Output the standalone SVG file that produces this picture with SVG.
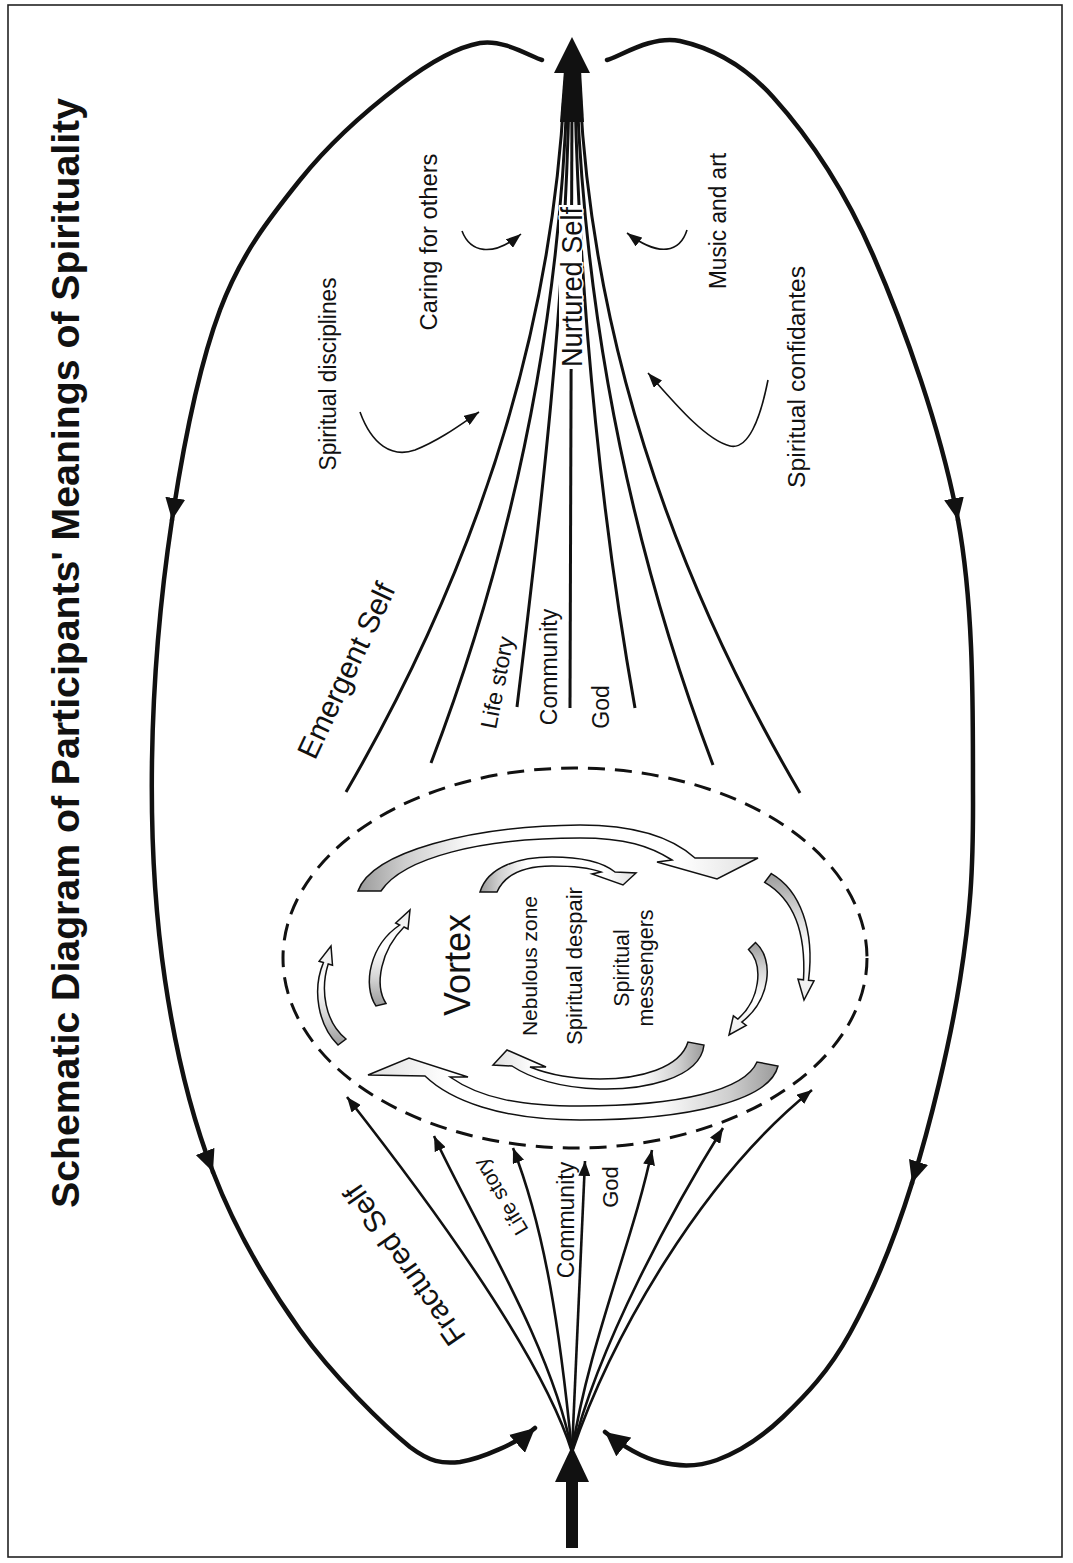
<svg xmlns="http://www.w3.org/2000/svg" width="1073" height="1563" viewBox="0 0 1073 1563">
<style>
.lbl{font-family:"Liberation Sans",Arial,Helvetica,sans-serif;fill:#111}
.title{font-family:"Liberation Sans",Arial,Helvetica,sans-serif;font-weight:bold;fill:#111}
.loop{fill:none;stroke:#111;stroke-width:4.5;stroke-linecap:round}
.fan{fill:none;stroke:#111;stroke-width:2.6}
.up{fill:none;stroke:#111;stroke-width:3}
.thin{fill:none;stroke:#111;stroke-width:1.6}
.blk{stroke:#111;stroke-width:1.5;stroke-linejoin:miter}
.halo{stroke:#fff;stroke-width:3;paint-order:stroke;stroke-linejoin:round}
</style>
<defs>
<marker id="ah" viewBox="0 0 15 12" refX="15" refY="6" markerWidth="15" markerHeight="12" markerUnits="userSpaceOnUse" orient="auto"><path d="M0,0 L15,6 L0,12 Z" fill="#111"/></marker>
<marker id="ahs" viewBox="0 0 15 11" refX="15" refY="5.5" markerWidth="15" markerHeight="11" markerUnits="userSpaceOnUse" orient="auto"><path d="M0,0 L15,5.5 L0,11 Z" fill="#111"/></marker>
<marker id="ahL" viewBox="0 0 22 20" refX="22" refY="10" markerWidth="22" markerHeight="20" markerUnits="userSpaceOnUse" orient="auto"><path d="M0,0 L22,10 L0,20 Z" fill="#111"/></marker>
<marker id="ahB" viewBox="0 0 24 24" refX="24" refY="12" markerWidth="24" markerHeight="24" markerUnits="userSpaceOnUse" orient="auto"><path d="M0,0 L24,12 L0,24 Z" fill="#111"/></marker>
<linearGradient id="gL" x1="0" y1="0" x2="1" y2="0"><stop offset="0" stop-color="#9a9a9a"/><stop offset="0.12" stop-color="#cfcfcf"/><stop offset="0.3" stop-color="#fff"/><stop offset="0.8" stop-color="#fff"/><stop offset="1" stop-color="#e0e0e0"/></linearGradient>
<linearGradient id="gR" x1="1" y1="0" x2="0" y2="0"><stop offset="0" stop-color="#9a9a9a"/><stop offset="0.12" stop-color="#cfcfcf"/><stop offset="0.3" stop-color="#fff"/><stop offset="0.8" stop-color="#fff"/><stop offset="1" stop-color="#e0e0e0"/></linearGradient>
<linearGradient id="gB" x1="0" y1="1" x2="0" y2="0"><stop offset="0" stop-color="#9a9a9a"/><stop offset="0.3" stop-color="#d6d6d6"/><stop offset="0.6" stop-color="#fff"/><stop offset="1" stop-color="#ececec"/></linearGradient>
<linearGradient id="gT" x1="0" y1="0" x2="0" y2="1"><stop offset="0" stop-color="#9a9a9a"/><stop offset="0.3" stop-color="#d6d6d6"/><stop offset="0.6" stop-color="#fff"/><stop offset="1" stop-color="#ececec"/></linearGradient>
</defs>
<rect x="0" y="0" width="1073" height="1563" fill="#fff"/>
<rect id="frame" x="8" y="5" width="1054" height="1552" fill="none" stroke="#222" stroke-width="1.6"/>

<g id="title">
<text class="title" font-size="39" textLength="1110" lengthAdjust="spacingAndGlyphs" transform="translate(79,1208) rotate(-90)">Schematic Diagram of Participants' Meanings of Spirituality</text>
</g>

<g id="connectors">
<!-- outer left loop -->
<path class="loop" marker-end="url(#ahL)" d="M542,60 C531.7,57.2 503.7,38.8 480,43 C456.3,47.2 430,62.2 400,85 C370,107.8 330,142.5 300,180 C270,217.5 241.3,253.3 220,310 C198.7,366.7 183.3,445 172,520"/>
<path class="loop" marker-end="url(#ahL)" d="M172,520 C160.7,595 153.2,683.3 152,760 C150.8,836.7 154.8,911.3 165,980 C175.2,1048.7 190.5,1113.7 213,1172"/>
<path class="loop" marker-end="url(#ahB)" d="M213,1172 C235.5,1230.3 267.2,1284.2 300,1330 C332.8,1375.8 383.3,1425.3 410,1447 C430,1462 442,1464 460,1462 C480.8,1458.8 518,1443 535,1428"/>
<!-- outer right loop -->
<path class="loop" marker-end="url(#ahL)" d="M607,60 C619.2,56.8 652.3,34.8 680,41 C707.7,47.2 740.8,61.3 773,97 C805.2,132.7 842.2,184.5 873,255 C903.8,325.5 941.3,429.8 958,520"/>
<path class="loop" marker-end="url(#ahL)" d="M958,520 C974.7,610.2 972.7,719.3 973,796 C973.3,872.7 970.2,915.5 960,980 C949.8,1044.5 930.3,1124.2 912,1183"/>
<path class="loop" marker-end="url(#ahB)" d="M912,1183 C893.7,1241.8 871.5,1294 850,1333 C828.5,1372 805.2,1395.8 783,1417 C760.8,1438.2 737.5,1452.5 717,1460 C696.5,1467.5 678.7,1466.7 660,1462 C641.3,1457.3 620,1444 605,1432"/>

<!-- bottom central arrow -->
<rect x="566" y="1478" width="12" height="70" fill="#111"/>
<path d="M572,1446 L589,1482 L555,1482 Z" fill="#111"/>

<!-- lower fan (Fractured Self) -->
<path class="fan" marker-end="url(#ah)" d="M572,1452 C540,1350 420,1190 347,1097"/>
<path class="fan" marker-end="url(#ah)" d="M572,1452 C552,1345 470,1215 434,1136"/>
<path class="fan" marker-end="url(#ah)" d="M572,1452 C560,1330 545,1230 513,1148"/>
<path class="fan" marker-end="url(#ah)" d="M572,1452 L585,1161"/>
<path class="fan" marker-end="url(#ah)" d="M572,1452 C588,1345 635,1235 652,1150"/>
<path class="fan" marker-end="url(#ah)" d="M572,1452 C598,1345 675,1205 723,1128"/>
<path class="fan" marker-end="url(#ah)" d="M572,1452 C610,1340 700,1180 812,1090"/>

<!-- upper fan (Emergent / Nurtured Self) -->
<path class="up" d="M346,792 C504,520 554,280 564,95"/>
<path class="up" d="M431,763 C524,520 560,290 567,95"/>
<path class="up" d="M517,707 C537,540 565,320 569,95"/>
<path class="up" d="M570,708 L572,95"/>
<path class="up" d="M635,708 C605,540 580,320 575,95"/>
<path class="up" d="M713,765 C620,520 585,290 577,95"/>
<path class="up" d="M800,793 C640,520 590,280 580,95"/>
<!-- top central arrow -->
<path d="M564,70 L581,70 L584,122 L560,122 Z" fill="#111"/>
<path d="M572,37 L590,73 L554,73 Z" fill="#111"/>

<!-- small influence arrows -->
<path class="thin" marker-end="url(#ahs)" d="M360,412 C372,445 392,458 415,450 C440,440 460,425 479,412"/>
<path class="thin" marker-end="url(#ahs)" d="M462,231 C470,252 492,258 521,234"/>
<path class="thin" marker-end="url(#ahs)" d="M687,230 C680,252 660,258 627,233"/>
<path class="thin" marker-end="url(#ahs)" d="M768,380 C760,420 748,450 730,446 C705,440 672,400 648,373"/>
</g>

<g id="vortex">
<ellipse cx="575" cy="958" rx="292" ry="190" fill="none" stroke="#111" stroke-width="3" stroke-dasharray="17 10"/>
<g id="vortex-arrows">
<path class="blk" fill="url(#gL)" d="M358,891 C372,852 470,826 580,825 C640,825 675,840 695,858 L758,858 L717,879 L657,862 L672,860 C650,846 625,838 580,838 C480,838 403,858 381,891 Z"/>
<path class="blk" fill="url(#gL)" d="M480,892 C488,866 520,857 552,857 C585,857 605,864 615,872 L636,873 L623,885 L592,874 L601,872 C590,868 572,866 552,866 C525,866 505,874 497,892 Z"/>
<path class="blk" fill="url(#gB)" d="M338,1045 C318,1025 312,990 323.4,962.6 L319.1,961.3 L331,946 L332.5,965.3 L328.2,964 C320,990 325,1022 346,1039 Z"/>
<path class="blk" fill="url(#gB)" d="M376,1006 C362,985 370,945 399.7,925 L395.7,923 L410,910 L408,929 L404,927 C381,950 374,985 386,1003.5 Z"/>
<path class="blk" fill="url(#gT)" d="M771.3,873.6 C800,890 815,930 808.5,980.3 L814,980.8 L804,1000 L798,979.2 L803.5,979.8 C806,935 795,900 764.7,882.4 Z"/>
<path class="blk" fill="url(#gT)" d="M755.5,942.5 C775,960 770,1000 741.8,1022.1 L746.2,1025.4 L729,1035 L733.4,1015.8 L737.8,1019.1 C760,1000 764,965 748.5,949.5 Z"/>
<path class="blk" fill="url(#gR)" d="M704,1045 C700,1080 640,1090 600,1089 C560,1088 530,1078 512,1066 L493,1065 L507,1050 L546,1067 L530,1067 C550,1075 575,1079 600,1079 C640,1079 680,1068 688,1042 Z"/>
<path class="blk" fill="url(#gR)" d="M778,1066 C770,1100 690,1120 580,1120 C500,1120 450,1100 425,1076 L368,1075 L409,1058 L468,1077 L450,1077 C480,1098 520,1106 580,1106 C680,1106 745,1090 757,1062 Z"/>
</g>
<text class="lbl" font-size="36" text-anchor="middle" transform="translate(470,965) rotate(-90)">Vortex</text>
<text class="lbl" font-size="21" text-anchor="middle" transform="translate(537,966) rotate(-90)">Nebulous zone</text>
<text class="lbl" font-size="22" text-anchor="middle" transform="translate(582,966) rotate(-90)">Spiritual despair</text>
<text class="lbl" font-size="21.5" text-anchor="middle" transform="translate(629,968) rotate(-90)">Spiritual</text>
<text class="lbl" font-size="21.5" text-anchor="middle" transform="translate(652.5,968) rotate(-90)">messengers</text>
</g>

<g id="fractured-self">
<text class="lbl" font-size="30" text-anchor="middle" transform="translate(413,1259) rotate(-124.7)">Fractured Self</text>
<text class="lbl" font-size="21" text-anchor="middle" transform="translate(507,1193) rotate(-121)">Life story</text>
<text class="lbl" font-size="23" text-anchor="middle" transform="translate(574,1220) rotate(-90)">Community</text>
<text class="lbl" font-size="22" text-anchor="middle" transform="translate(618,1187) rotate(-90)">God</text>
</g>

<g id="emergent-self">
<text class="lbl" font-size="30" text-anchor="middle" transform="translate(355.5,675) rotate(-64.7)">Emergent Self</text>
<text class="lbl" font-size="23" text-anchor="middle" transform="translate(505,684) rotate(-79)">Life story</text>
<text class="lbl" font-size="23" text-anchor="middle" transform="translate(557,667) rotate(-90)">Community</text>
<text class="lbl" font-size="23" text-anchor="middle" transform="translate(609,707) rotate(-90)">God</text>
</g>

<g id="nurtured-self">
<rect x="559" y="205" width="23" height="164" fill="#fff"/>
<text class="lbl halo" font-size="29" text-anchor="middle" textLength="160" lengthAdjust="spacingAndGlyphs" transform="translate(582,287) rotate(-90)">Nurtured Self</text>
</g>

<g id="influences">
<text class="lbl" font-size="23" text-anchor="middle" textLength="193" lengthAdjust="spacingAndGlyphs" transform="translate(336,374) rotate(-90)">Spiritual disciplines</text>
<text class="lbl" font-size="23.5" text-anchor="middle" textLength="177" lengthAdjust="spacingAndGlyphs" transform="translate(437,242) rotate(-90)">Caring for others</text>
<text class="lbl" font-size="23" text-anchor="middle" textLength="136" lengthAdjust="spacingAndGlyphs" transform="translate(726,221) rotate(-90)">Music and art</text>
<text class="lbl" font-size="23.5" text-anchor="middle" textLength="222" lengthAdjust="spacingAndGlyphs" transform="translate(805,377) rotate(-90)">Spiritual confidantes</text>
</g>
</svg>
